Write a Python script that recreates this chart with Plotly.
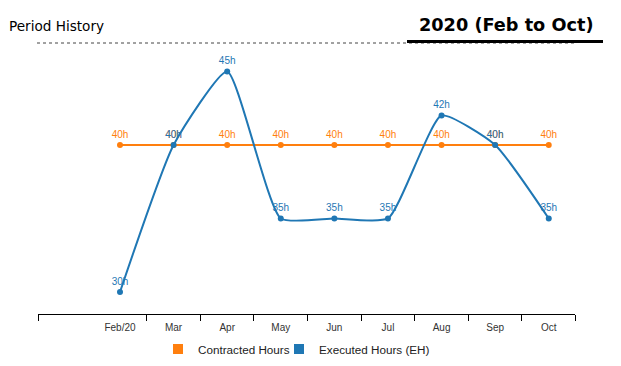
import plotly.graph_objects as go

months = ["Feb/20", "Mar", "Apr", "May", "Jun", "Jul", "Aug", "Sep", "Oct"]
contracted = [40, 40, 40, 40, 40, 40, 40, 40, 40]
executed = [30, 40, 45, 35, 35, 35, 42, 40, 35]
series_names = ["Contracted Hours", "Executed Hours (EH)"]
title_left = "Period History"
title_right = "2020 (Feb to Oct)"

ORANGE = "#ff7f0e"
BLUE = "#1f77b4"

W, H = 621, 366
L, R, T, B = 38, 46, 60, 52
PW, PH = W - L - R, H - T - B

def px_x(p):
    return (p - L) / PW

def px_y(p):
    return (H - B - p) / PH

xpos = list(range(len(months)))
x_lo, x_hi = -1.53, len(months) - 1 + 0.49
bounds = [x_lo] + [i + 0.5 for i in range(len(months) - 1)] + [x_hi]

fig = go.Figure()
fig.add_trace(go.Scatter(
    x=xpos, y=contracted, mode="lines+markers+text",
    line=dict(color=ORANGE, width=2), marker=dict(color=ORANGE, size=6),
    text=[f"{v}h" for v in contracted], textposition="top center",
    textfont=dict(color=ORANGE, size=10, family="Liberation Sans"),
    showlegend=False, cliponaxis=False, xaxis="x", yaxis="y"))
fig.add_trace(go.Scatter(
    x=xpos, y=executed, mode="lines+markers+text",
    line=dict(color=BLUE, width=2, shape="spline", smoothing=0.5),
    marker=dict(color=BLUE, size=6),
    text=[f"{v}h" for v in executed], textposition="top center",
    textfont=dict(color=BLUE, size=10, family="Liberation Sans"),
    showlegend=False, cliponaxis=False, xaxis="x", yaxis="y"))
legend_ids = ["legend", "legend2"]
for name, col, lg in zip(series_names, [ORANGE, BLUE], legend_ids):
    fig.add_trace(go.Scatter(
        x=[None], y=[None], mode="markers", name=name, legend=lg,
        marker=dict(color=col, size=10, symbol="square"), showlegend=True))
fig.add_trace(go.Scatter(x=[None], y=[None], xaxis="x2", yaxis="y", showlegend=False))

leg_common = dict(orientation="h", xref="container", yref="container",
                  xanchor="left", yanchor="middle", y=1 - 349/H,
                  font=dict(size=11.7, color="#222", family="Liberation Sans"),
                  itemwidth=30, bgcolor="rgba(0,0,0,0)")

fig.update_layout(
    width=W, height=H,
    margin=dict(l=L, r=R, t=T, b=B, autoexpand=False),
    paper_bgcolor="white", plot_bgcolor="white",
    font=dict(family="Liberation Sans", color="#333"),
    title=dict(text=title_left, x=9/W, xanchor="left", xref="container",
               y=1 - 26/H, yanchor="middle", yref="container",
               font=dict(size=13.6, family="DejaVu Sans", color="#000")),
    xaxis=dict(range=[x_lo, x_hi], tickmode="array", tickvals=xpos, ticktext=months,
               showline=True, linecolor="#000", linewidth=1, ticks="",
               ticklabelstandoff=4, automargin=False,
               showgrid=False, zeroline=False,
               tickfont=dict(size=10, color="#333", family="Liberation Sans")),
    xaxis2=dict(range=[x_lo, x_hi], overlaying="x", tickmode="array", tickvals=bounds,
                ticks="outside", ticklen=6, tickcolor="#000", showticklabels=False,
                automargin=False,
                showgrid=False, zeroline=False, side="bottom", anchor="y"),
    yaxis=dict(range=[28.5, 45.78], visible=False, showgrid=False, zeroline=False),
    legend=dict(x=(175 - 17) / W, **leg_common),
    legend2=dict(x=(296 - 17) / W, **leg_common),
    annotations=[dict(text=f"<b>{title_right}</b>", xref="paper", yref="paper",
                      x=px_x(505.5), y=px_y(25), xanchor="center", yanchor="middle",
                      showarrow=False, font=dict(size=17.7, color="#000", family="DejaVu Sans"))],
    shapes=[
        dict(type="line", xref="paper", yref="paper", x0=px_x(37), x1=px_x(577),
             y0=px_y(43), y1=px_y(43), line=dict(color="#444", width=1, dash="dot")),
        dict(type="line", xref="paper", yref="paper", x0=px_x(407), x1=px_x(603),
             y0=px_y(41.5), y1=px_y(41.5), line=dict(color="#000", width=3)),
    ],
)

fig.write_html("out.html", config={"displayModeBar": False},
               post_script="document.body.style.margin='0px';")
